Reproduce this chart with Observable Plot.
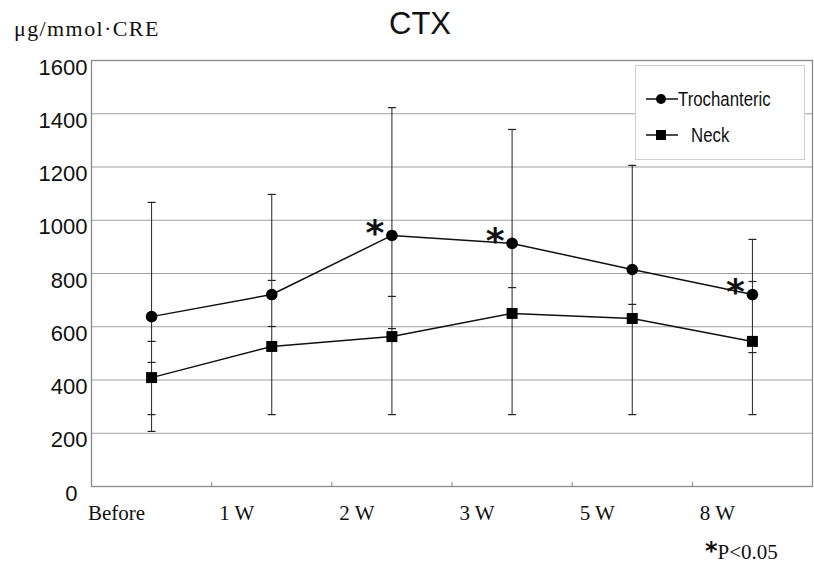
<!DOCTYPE html>
<html><head><meta charset="utf-8">
<script src="https://cdn.jsdelivr.net/npm/d3@7"></script>
<script src="https://cdn.jsdelivr.net/npm/@observablehq/plot@0.6"></script>
<style>
body{margin:0;background:#fff;}
#wrap{position:relative;width:814px;height:566px;overflow:hidden;background:#fff;}
#chart{position:absolute;left:0;top:0;}
.unit{position:absolute;left:14px;top:16px;font-size:22px;letter-spacing:1.4px;font-family:"Liberation Serif","Times New Roman",serif;color:#111;white-space:nowrap;}
.title{position:absolute;left:360px;width:120px;text-align:center;top:6px;font-size:31px;font-family:"Liberation Sans",Arial,sans-serif;color:#111;}
.foot{position:absolute;left:705px;top:540px;height:22px;line-height:22px;font-size:21px;font-family:"Liberation Serif","Times New Roman",serif;color:#111;white-space:nowrap;}
.foot b{font-family:"DejaVu Sans",sans-serif;font-size:24px;font-weight:bold;line-height:22px;}
.legend{position:absolute;left:635px;top:65px;width:168px;height:93px;border:1px solid #cfcfcf;background:#fff;}
.legend .row{position:absolute;left:0;height:24px;}
.legend svg{position:absolute;left:10px;top:0;}
.legend span{position:absolute;font-size:20px;font-family:"Liberation Sans",Arial,sans-serif;color:#111;white-space:nowrap;line-height:24px;top:0;transform:scaleX(0.84);transform-origin:0 50%;}
</style>
</head><body>
<div id="wrap">
  <div id="chart"></div>
  <div class="unit">μg/mmol·CRE</div>
  <div class="title">CTX</div>
  <div class="legend" id="legend"></div>
  <div class="foot"><b>*</b>P&lt;0.05</div>
</div>
<script>
const categories = ["Before", "1 W", "2 W", "3 W", "5 W", "8 W"];
const seriesNames = ["Trochanteric", "Neck"];
const trochanteric = [638, 721, 943, 913, 815, 721];
const neck = [409, 526, 563, 650, 631, 545];
// error bar cap positions, per category
const errorCaps = [
  [1067, 545, 466, 270, 207],
  [1097, 774, 601, 270],
  [1423, 714, 593, 270],
  [1341, 747, 270],
  [1206, 684, 270],
  [928, 770, 503, 270]
];
const significant = ["", "", "*", "*", "", "*"];
const yTicks = [0, 200, 400, 600, 800, 1000, 1200, 1400, 1600];

const rows = categories.map((c, i) => ({
  idx: i + 0.5, label: c, troch: trochanteric[i], neck: neck[i],
  lo: d3.min(errorCaps[i]), hi: d3.max(errorCaps[i]), sig: significant[i]
}));
const capRows = errorCaps.flatMap((caps, i) => caps.map(v => ({idx: i + 0.5, v})));
const boundaries = d3.range(1, categories.length);

const capSymbol = {
  draw(context, size) {
    context.moveTo(-4, 0);
    context.lineTo(4, 0);
  }
};

const sans = '"Liberation Sans",Arial,sans-serif';
const serif = '"Liberation Serif","Times New Roman",serif';

const chart = Plot.plot({
  width: 814,
  height: 566,
  marginLeft: 91,
  marginRight: 2,
  marginTop: 60,
  marginBottom: 80,
  x: {domain: [0, categories.length], axis: null},
  y: {domain: [0, 1600], axis: null},
  style: {background: "transparent", color: "#111"},
  marks: [
    Plot.ruleY(yTicks.filter(v => v > 0 && v < 1600), {stroke: "#a0a0a0", strokeWidth: 1}),
    Plot.frame({stroke: "#8a8a8a", strokeWidth: 1.3}),
    Plot.ruleX(boundaries, {x: d => d, y1: 0, y2: 16, stroke: "#8a8a8a"}),
    Plot.ruleX(rows, {x: "idx", y1: "lo", y2: "hi", stroke: "#222", strokeWidth: 1}),
    Plot.dot(capRows, {x: "idx", y: "v", symbol: capSymbol, stroke: "#222", strokeWidth: 1.2, r: 4}),
    Plot.line(rows, {x: "idx", y: "troch", stroke: "#111", strokeWidth: 1.5}),
    Plot.line(rows, {x: "idx", y: "neck", stroke: "#111", strokeWidth: 1.5}),
    Plot.dot(rows, {x: "idx", y: "troch", symbol: "circle", r: 5.8, fill: "#000"}),
    Plot.dot(rows, {x: "idx", y: "neck", symbol: "square", r: 6.2, fill: "#000"}),
    Plot.text(rows.filter(d => d.sig), {x: "idx", y: "troch", text: "sig", dx: -17, dy: -2, fontSize: 36, fontWeight: "bold", fontFamily: '"DejaVu Sans",sans-serif', fill: "#111"}),
    Plot.text(yTicks.filter(v => v > 0), {frameAnchor: "left", y: d => d, text: d => String(d), textAnchor: "end", dx: -4, dy: 7, fontSize: 22, fontFamily: sans, fill: "#111"}),
    Plot.text([0], {frameAnchor: "left", y: d => d, text: d => String(d), textAnchor: "end", dx: -14, dy: 7, fontSize: 22, fontFamily: sans, fill: "#111"}),
    Plot.text(rows, {x: "idx", frameAnchor: "bottom", text: "label", dx: -35, dy: 27, lineAnchor: "middle", fontSize: 21, fontFamily: serif, fill: "#111"})
  ]
});
document.getElementById("chart").appendChild(chart);

// legend
const legend = document.getElementById("legend");
seriesNames.forEach((name, i) => {
  const row = document.createElement("div");
  row.className = "row";
  row.style.top = (i === 0 ? 21 : 57) + "px";
  row.style.width = "168px";
  const sym = i === 0
    ? '<circle cx="15" cy="12" r="5" fill="#000"/>'
    : '<rect x="10" y="7" width="10" height="10" fill="#000"/>';
  row.innerHTML = `<svg width="34" height="24"><line x1="0" x2="32" y1="12" y2="12" stroke="#111" stroke-width="1.5"/>${sym}</svg><span style="left:${i === 0 ? 42 : 55}px">${name}</span>`;
  legend.appendChild(row);
});
</script>
</body></html>
